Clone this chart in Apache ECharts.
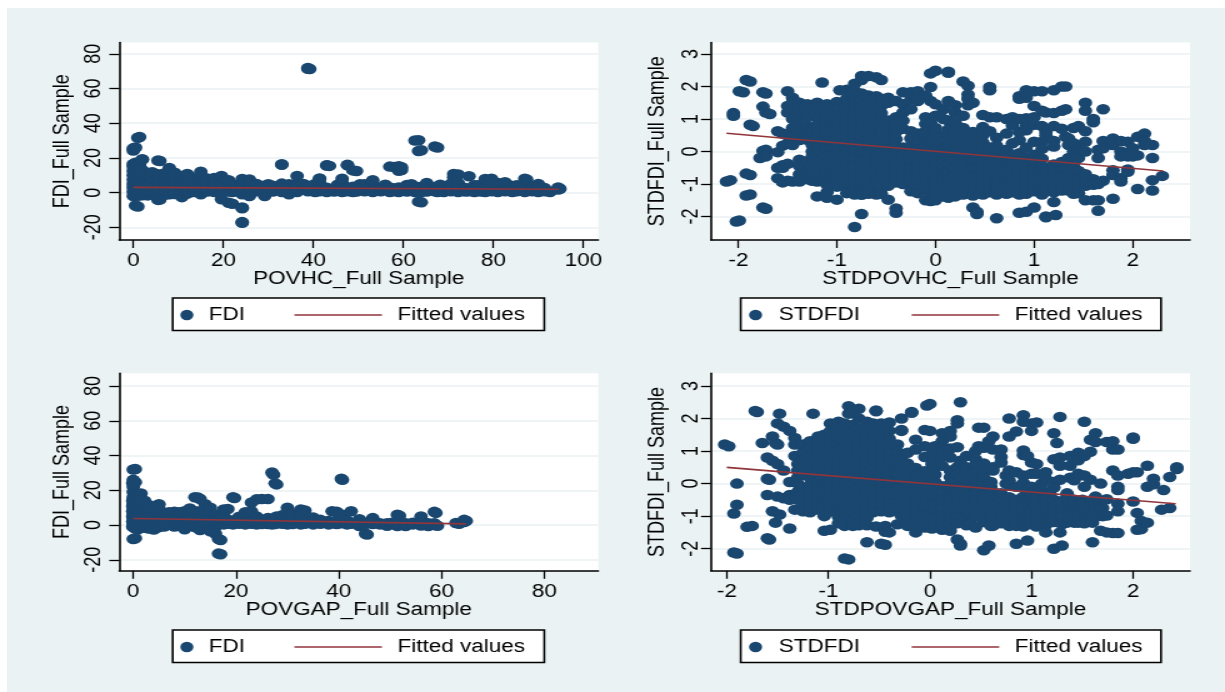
<!DOCTYPE html>
<html><head><meta charset="utf-8">
<style>
html,body{margin:0;padding:0;background:#fff;width:1225px;height:692px;overflow:hidden}
#bg{position:absolute;left:7px;top:8px;width:1218px;height:684px;background:#eaf2f3}
#c{position:absolute;left:0;top:0;width:980px;height:692px;transform:scaleX(1.25);transform-origin:0 0}
</style>
<script src="https://cdn.jsdelivr.net/npm/echarts@6/dist/echarts.min.js"></script>
</head><body><div id="bg"></div><div id="c"></div>
<script>
// Each column: [x, [y values]]
const povhcColumns=[
[0,[-2,0.5,3,5,7.5,10,12.5,15,16.5,24.2,25.5]],[0.5,[-7.4,-1,1.5,4.5,7,9.5,12,14.5,17.2,26]],[1,[-8,-1.8,1,3.5,6,8.5,11,13.5,15.8,31.6]],[1.4,[32,-1.2,2.5,5,16]],[2,[-1.5,0.5,3,5.5,8,10.5,13,19,19.3]],
[3.2,[-1.6,0.8,3.2,5.8,8.2,10.6]],[4.2,[-1,1,3.4,6,8.8,11.8]],[5.5,[-4.2,-1.4,0.6,3,5.6,8.2,10.6,18.5]],[5.9,[-4,18.2]],[7,[-1.2,1,3.6,6.2,9,11.2]],[8,[-1,0.8,3.2,5.8,8.4,11,14.2]],[9.2,[-0.8,1.2,3.6,6,8.6,11.4]],
[10.8,[-2.6,0.6,3,5.6,8.2,9.4]],[12,[-0.6,1,3.4,5.8,8.4,10.8]],[13.4,[0.4,2.8,5.4,8]],[15,[-1,0.8,3.2,5.8,8.2,10.4,12]],[16.4,[0.6,3,5.6,8.2]],[18,[0.4,2.6,5.2,8.4]],[19.6,[-3.8,0.2,2.8,5.4,8.8,9.6]],
[21.2,[-5.8,0.6,3,5.2,7.2]],[22,[-6.4,0.4,2.6,4.6]],[23,[0.8,3,4.4]],[24.2,[-8.6,-9,-17,-17.4,-1,1,3.2,5.6,7.8]],[25.8,[-2,0.4,2.8,5.2,7.6]],[27.4,[0.8,3,5]],[29.2,[-2,0.4,2.6,4]],[30,[1.5,4.8]],[31,[0.6,2.8,4]],[33,[16.3,16,0.4,2.6,5.2]],[34.6,[-1,0.8,3,4.8]],[36.4,[0.4,2.6,5.4,9.6]],[37.8,[2,5]],[38.8,[71.8,71.4,0.8,3,4]],[39.2,[71.2]],[40.4,[0.4,2.6,5]],[41.4,[0.8,3.2,5.6,7.8,8.2]],[43,[15.8,15.6,0.4,2.8]],[43.6,[15.4]],[44.6,[0.6,2.4]],[45.4,[1.5,4.6]],[46.4,[0.4,3,5.6,8]],[47.6,[16,15.7,0.8,2.6]],[48.8,[12.8,0.4,3.4]],[49.6,[12.5,0.6,2.4]],[50.4,[1.5,4.8]],[51.4,[0.8,3,4.8]],[53.2,[0.4,3,5.4,7.2]],[55,[0.8,2.8]],[56,[1.6,4.6]],[57,[15,0.4,3]],[58,[14.8,0.8,2.4]],[59,[15.2,12.6,0.4,3]],[59.6,[13,14.6]],[60.8,[0.6,2.8,4.4]],[61.8,[1.6,4.8]],[62.6,[30,0.4,2.6]],[63.4,[30.2,24,-5.2,0.8,3.2]],[64,[24.4,-5.6,0.4]],[65.2,[0.6,3,5.6]],[67,[26.6,0.8,3.2]],[67.6,[26,0.4,2.6]],[68.2,[1.6,4.6]],[69,[0.4,2.8]],[70.6,[0.8,3.4,5.2]],[71.2,[10.8,8.8]],[72.2,[10.4,0.4,2.8,5.6]],[73.8,[0.6,2.6]],[74.6,[9.4,0.8]],[75.8,[0.4,2.8,4.2]],[76.6,[1.6,4.2]],[77.2,[0.6,2.2]],[78.2,[7.8,0.4,3]],[79.6,[8,0.8,2.6]],[81,[0.4,2.8,5.6]],[82.6,[0.8,2.4,6]],[83.4,[1.6,4.4]],[84.2,[0.4,2.6]],[85.2,[4.2,0.8]],[86,[1.6,3.8]],[87,[8,0.4,2.8]],[87.4,[7.6]],[88.6,[0.8,2.2]],[89.2,[1.6,4]],[90,[5,0.4,2.6]],[91.4,[0.8,2.6]],[92.6,[0.4]],[94.4,[3,1.8]],[94.8,[2.2]]];
const povgapColumns=[
[-0.1,[24.2,-1,2,5,8,11,14]],[0,[32,26,-8,1,4,7,10,13,16,19,22]],[0.4,[32.2,-7.6,-2,0.6,3.4,6,9,12,15,18,24.6]],[0.9,[-2.4,1.4,4.4,7.4,10.4,13.4,16.2]],[1.5,[-1.2,1.2,3.8,6.4,9.2,12,15,18.2]],[2.2,[-1.6,0.6,3.2,5.8,8.4,11,14]],[3,[-2,1,3.4,6,8.6,11.6]],[4,[-2.6,0.6,3,5.6,8.4]],[5,[-1.2,1.4,4,6.6,9.6,12]],[6,[-0.8,1,3.4,6]],[7,[0.4,2.8,5.2,7.4]],[8,[-0.8,1,3.2,5.6,7.6]],[9,[0.6,3,5.4,7.4]],[10,[-2.4,1,3.4,5.8,8]],[11,[0.4,2.8,5.4,7.8,9.6]],[12,[-1.2,1,3.2,5.6,8,16]],[12.6,[15.8]],[13,[-2.8,0.6,3,5.4,8,15]],[14,[-2.2,1,3.4,5.6,8.2,12]],[15,[-3.6,0.4,2.8,5.2,7.6,10]],[16,[-5,-1,1.2,3.4,6]],[16.6,[-16.4,-8,0.8,3]],[17,[-16.8,-8.6]],[17.6,[0.4,2.4,5.4,9]],[18.4,[0.8,3,9.2]],[19.4,[16,0.4,2.6]],[19.7,[15.6]],[20.6,[0.8,3,4.8]],[21.8,[0.4,2.8,5.4,7.4]],[23,[13,0.8,3,5.6,8]],[24,[14.8,0.4,2.6,5]],[25,[15,0.6,3]],[26.2,[15,0.6,2.8,4]],[27,[30.2,0.4,2.4]],[27.3,[29,3]],[27.6,[24,0.6]],[27.9,[23.4,5]],[29,[0.8,3,5.6]],[30,[10,7.6,0.4,2.8]],[31,[0.6,3,6.6]],[32.6,[9,0.4,2.8,6.4]],[33.4,[8.4,0.8,3]],[35,[0.4,2.6,4.4]],[36.4,[0.8,3]],[38,[0.4,2.4]],[38.7,[8,1]],[39.6,[7.6,0.6,2.6]],[40.5,[26.6,1]],[40.7,[26,6]],[41.6,[0.4,2.6]],[42.4,[8,0.8]],[44,[-0.6,3.4,1]],[45.2,[-5,0.6]],[45.5,[-5.4,1.4]],[46.6,[4,0.6,2.4]],[48,[1,0.4]],[49.4,[-0.4,1]],[50.4,[0.6,1.4]],[51.4,[6,-0.6,1]],[51.8,[5.4]],[53,[-0.6,1]],[54.4,[0.4,1.4]],[56,[5,-0.2,1,3]],[57.4,[-0.6,1]],[58.6,[7.6,0,1]],[58.9,[7]],[59.2,[-0.4]],[62.8,[1.2]],[63.4,[0.8]],[64.4,[3,1.8]],[64.8,[2.4]]];
const stdPovhcColumns=[
[-2.12,[-0.92]],[-2.08,[-0.88]],[-2.05,[1.18,1.1]],[-2.02,[-2.15]],[-1.99,[1.85,-2.12]],[-1.95,[1.82]],[-1.92,[2.2,-0.68,-1.35]],[-1.88,[2.15,0.82,-0.72,-1.32]],[-1.85,[0.78]],[-1.78,[-0.2]],[-1.75,[1.82,1.38,-1.72,0.02]],[-1.72,[1.78,1.2,-1.76,0.05,-0.15]],[-1.68,[1.15]],[-1.6,[0.62,-0.02,-0.5,-0.82]],[-1.55,[0.55,0.18,-0.42,-0.5,-0.95]],
[-1.5,[1.85,1.4,1.2,0.5,0.25,-0.38,-0.9]],[-1.45,[1.65,1.5,1.25,1,0.72,0.45,0.2,-0.92]],[-1.38,[1.5,1.3,1.05,0.8,0.55,0.35,-0.25,-0.45,-0.7,-0.92]],[-1.3,[1.05,0.78,0.55,0.36,-0.3,-0.62,-0.85,1.28,1.45]],[-1.25,[0.7,0.2,0,-0.15,-0.45,-0.7,-0.9]],
[-1.2,[1.5,1.28,1.05,0.82,0.6,0.38,0.15,-0.08,-0.3,-0.52,-0.74,-0.92,-1.38]],[-1.15,[2.12,1.38,-0.25,-0.9]],[-1.1,[1.45,1.22,1,0.78,0.55,0.32,0.1,-0.14,-0.36,-0.6,-0.82,-1.02,-1.25,-1.42]],[-1.05,[0.75,0.3,-0.15,-0.6,-0.9]],
[-1,[1.52,1.3,1.08,0.86,0.62,0.4,0.18,-0.05,-0.28,-0.5,-0.74,-0.96,-1.48,-1.08]],[-0.97,[1.88]],[-0.9,[1.9,1.62,1.4,1.18,0.95,0.72,0.5,0.28,0.05,-0.18,-0.4,-0.62,-0.85,-1.05,-1.28]],[-0.82,[2.08,1.86,1.6,1.38,1.15,0.92,0.7,0.48,0.25,0.02,-0.2,-0.42,-0.66,-0.9,-1.12,-1.32,-2.32]],[-0.75,[2.32,2.2,1.78,1.55,1.32,1.1,0.88,0.65,0.42,0.2,-0.02,-0.25,-0.48,-0.7,-0.92,-1.15,-1.33,-1.92]],[-0.68,[2.32,1.72,1.5,1.28,1.05,0.82,0.6,0.38,0.15,-0.08,-0.3,-0.52,-0.75,-0.98,-1.2,-1.3]],
[-0.6,[2.28,1.7,1.45,1.22,1,0.78,0.55,0.32,0.1,-0.12,-0.35,-0.58,-0.8,-1.02,-1.32]],[-0.55,[2.2,1.62,1.18,0.4,-0.2,-1.3,1.4,0.95,0.72,0.6,0.15,-0.05,-0.4,-0.62,-0.85,-1.1]],[-0.48,[1.65,1.5,0.95,0.72,0.5,0.28,0.05,-0.18,-0.4,-0.62,-0.85,-1.05,-1.48]],[-0.4,[1.55,1.05,0.82,0.6,0.38,0.15,-0.08,-0.3,-0.52,-0.75,-0.95,-1.75,-1.88]],
[-0.33,[1.82,1.45,1.2,0.95,0.7,0.12,-0.1,-0.32,-0.55,-0.78,-1]],[-0.25,[1.82,1.6,1.3,0.62,0.4,0.18,-0.05,-0.28,-0.5,-0.72,-0.95,-1.22]],[-0.18,[1.85,1.55,0.55,0.3,0.08,-0.15,-0.38,-0.6,-0.82,-1.05,-1.28]],[-0.1,[1.72,1.05,0.85,0.62,0.4,0.18,-0.05,-0.28,-0.5,-0.72,-0.95,-1.18,-1.5]],[-0.05,[2.4,1.98,1.55,0.9,0.35,-0.6,-1.3,-1.52]],
[0,[2.48,1.45,1.1,0.72,0.5,0.28,0.05,-0.18,-0.4,-0.62,-0.85,-1.08,-1.3,-1.5]],[0.08,[1.3,1,0.5,0.18,-0.05,-0.28,-0.5,-0.72,-0.95,-1.18,-1.38]],[0.13,[2.45,2.42,1.55,0.95,0.68,0.35,-1.42,0.1,-0.15,-0.4,-0.62,-0.85,-1.08,-1.28]],[0.2,[1.42,1.2,0.9,0.62,0.4,0.18,-0.05,-0.28,-0.5,-0.72,-0.95,-1.18,-1.38]],
[0.28,[2.15,1.1,0.72,0.5,0.28,0.05,-0.18,-0.4,-0.62,-0.85,-1.08,-1.32]],[0.33,[2.02,1.75,1.62,1.42]],[0.38,[1.5,0.6,0.38,0.15,-0.08,-0.3,-0.52,-0.75,-0.98,-1.2,-1.35,-1.72]],[0.42,[-1.85,-1.92]],[0.48,[1.12,0.75,0.5,0.28,0.05,-0.18,-0.4,-0.62,-0.85,-1.08,-1.32]],[0.55,[1.98,1.88,1.05,0.62,0.12,-0.1,-0.32,-0.55,-0.78,-1,-1.25]],[0.62,[1.05,0.42,0.18,-0.05,-0.28,-0.5,-0.72,-0.95,-1.18,-1.32,-2.05]],[0.72,[1,0.55,0.05,-0.18,-0.4,-0.62,-0.85,-1.08,-1.3]],[0.78,[1.05,0.8,0.25,-0.1,-0.32,-0.55,-0.78,-1,-1.25]],[0.85,[1.7,1.62,1,0.6,0.35,-0.05,-0.28,-0.5,-0.72,-0.95,-1.18,-1.32,-1.88]],[0.92,[1.88,1.65,1.02,0.78,0.65,0.12,-0.18,-0.4,-0.62,-0.85,-1.08,-1.3,-1.85]],
[1,[1.85,1.4,1.05,0.82,0.3,-0.1,-0.32,-0.55,-0.78,-1,-1.22,-1.72]],[1.08,[1.85,1.25,0.78,0.3,0.08,-0.22,-0.45,-0.68,-0.9,-1.12,-1.32]],[1.12,[1.2,-2,-2.02,-0.5,-0.75,-1,-1.2,0.6,0.5]],[1.2,[1.88,1.18,0.78,0.32,0.15,-0.4,-0.6,-0.82,-1.05,-1.25,-1.55]],[1.22,[-1.95]],[1.28,[2,1.25,0.7,-0.32,-0.55,-0.78,-1,-1.2]],[1.32,[2,1.3,0.45]],[1.35,[-0.2,-0.5,-0.75,-1,-1.2,0.2,0.4]],[1.4,[0.72,0.25,0,-0.45,-0.68,-0.9,-1.12,-1.3]],[1.45,[0.78,0.05,-0.1,-0.6,-1.28,-0.2,-0.85,-1.05]],[1.52,[1.5,1.25,0.62,-1.5,-0.82,-1.05,-0.7,0.3,0]],[1.6,[1,0.9,-0.85,-1.02,-1.5]],[1.65,[-0.2,0.05,-1,-1.82,-1.5]],[1.7,[1.3,0.32,0.1,-0.9]],[1.8,[0.4,0.2,-0.58,-0.72,-1.45]],[1.88,[0.32,0,-0.15,-0.82,-0.92]],[1.95,[0.3,-0.15,-0.55,-0.62]],[2,[0.1,-0.15]],[2.05,[0.45,-0.12,-1.15]],[2.12,[0.55,0.32,0.2]],[2.2,[0.2,-0.2,-0.88,-1.2]],[2.3,[-0.75]]];
const stdPovgapColumns=[
[-2.02,[1.2]],[-1.98,[1.15]],[-1.93,[-2.12,-0.92]],[-1.9,[-2.15,0,-0.65]],[-1.8,[-1.33]],[-1.75,[-1.3]],[-1.72,[2.23]],[-1.7,[2.2]],[-1.65,[1.25]],[-1.6,[0.15,0.8,-1.68,-0.35]],[-1.58,[-1.72,0.12]],[-1.55,[1.45,0.7,-0.85]],[-1.52,[-1.2,1.25]],[-1.5,[1.2,1.85,0.6,-0.4]],[-1.48,[2.15,-0.95]],[-1.44,[1.75,0.4,-0.45]],[-1.38,[1.62,0.05,-0.35,-0.5,-1.38]],[-1.33,[1.4,1.2,0.85,-0.8]],[-1.3,[0.6,0.4,0.2,0,-0.25,-0.5]],
[-1.25,[1.2,0.95,0.72,0.5,0.28,-0.12,-0.38,-0.6,-0.85]],[-1.18,[1.3,1.08,0.85,0.62,0.4,0.18,-0.05,-0.28,-0.5,-0.72,-0.88]],[-1.15,[2.15]],[-1.1,[1.45,1.22,1,0.78,0.55,0.32,0.1,-0.12,-0.35,-0.58,-0.8]],[-1.04,[1.5,1.25,1.02,0.8,0.58,0.35,0.12,-0.1,-0.32,-0.55,-0.78,-1,-1.45]],
[-0.98,[1.85,1.62,1.4,1.18,0.95,0.72,0.5,0.28,0.05,-0.18,-0.4,-0.62,-0.85,-1.42]],[-0.9,[1.9,1.68,1.45,1.22,1,0.78,0.55,0.32,0.1,-0.12,-0.35,-0.58,-0.8,-1.02,-1.22]],[-0.84,[1.85,1.6,1.38,1.15,0.92,0.7,0.48,0.25,0.02,-0.2,-0.42,-0.65,-0.88,-1.1,-1.3,-2.3]],[-0.8,[2.38,2.15,-2.33]],[-0.76,[2.22,1.8,1.55,1.32,1.1,0.88,0.65,0.42,0.2,-0.02,-0.25,-0.48,-0.7,-0.92,-1.15,-1.3]],[-0.7,[2.3,2,1.7,1.48,1.25,1.02,0.8,0.58,0.35,0.12,-0.1,-0.32,-0.55,-0.78,-1,-1.28]],
[-0.62,[1.9,1.65,1.42,1.2,0.98,0.75,0.52,0.3,0.08,-0.15,-0.38,-0.6,-0.82,-1.05,-1.28,-1.8]],[-0.56,[1.85,1.6,1.38,1.15,0.92,0.7,0.48,0.25,0.02,-0.2,-0.42,-0.65,-0.88]],[-0.53,[2.25,2.22,-1.32]],[-0.48,[1.85,1.62,1.4,1.18,0.95,0.72,0.5,0.28,0.05,-0.18,-0.4,-0.62,-0.85,-1.85]],[-0.44,[-1.3,-1.48,-1.88]],[-0.4,[1.88,1.62,1.38,1.15,0.92,0.7,0.48,0.25,0.02,-0.2,-0.42,-0.65,-0.88,-1.5]],[-0.32,[1.2,0.98,0.75,0.5,0.28,0.05,-0.18,-0.4,-0.62,-0.85,-1.25]],[-0.28,[2,1.65,1.62,0.75,0.5,0.1,-0.7,-1]],[-0.22,[0.95,0.62,0.4,0.18,-0.05,-0.28,-0.5,-0.72,-0.95,-1.22,-1.3]],[-0.18,[2.2,2.18]],
[-0.14,[1.35,1.05,0.48,0.25,0.02,-0.2,-0.42,-0.65,-0.88,-1.1,-1.5,-1.3]],[-0.05,[1.65,1.15,0.82,0.38,0.15,-0.08,-0.3,-0.52,-0.75,-0.98,-1.2,-1.35]],[-0.03,[2.4]],[0,[2.45,1.62]],[0.02,[0.9,0.6,-0.3,-0.9,-1.38]],[0.05,[1.15,0.75,0.5,0.28,0.05,-0.18,-0.4,-0.62,-0.85,-1.05,-1.28]],[0.12,[1.55,1.3,1.1,0.85,0.55,-0.08,-0.3,-0.52,-0.75,-0.98,-1.2,-1.42]],[0.2,[1.62,1.45,1.08,0.8,-0.2,-0.42,-0.65,-0.88,-1.1,-1.32,-1.45,0.2,0,0.4,-1.25]],[0.27,[1.95,1.85,1.12,0.5,0.28,-0.1,-0.32,-0.55,-0.78,-1,-1.22,-1.72]],[0.3,[2.5,-1.85,-1.9,0.7,0.15,-0.2,-0.8]],[0.36,[0.85,0.5,0.32,0.1,-0.15,-0.38,-0.6,-0.82,-1.05,-1.28]],[0.4,[-0.4,-0.9,-1.2,0.25]],[0.45,[1,0.75,0.58,0.35,0.12,-0.1,-0.32,-0.55,-0.78,-1,-1.35]],[0.48,[1.72,1.15]],[0.53,[1.72,1.1,0.62,0.4,0.18,-0.05,-0.28,-0.5,-0.72,-0.95,-1.18,-2.05]],[0.58,[1.3,-1.9]],[0.6,[-0.1,0.05,-1.3,-0.95]],[0.62,[1.45,1.05,0.5,0.4,-0.25,-0.45,-0.68,-0.9,-1.12,-1.3]],[0.7,[1.05,0.82,0.65,-0.3,-0.55,-0.78,-1,-1.22]],[0.75,[0,0.25]],[0.78,[2,1.45,0.4,0.1,-0.05,-0.42,-0.65,-0.88,-1.1,-1.3]],[0.85,[1.6,0.35,-0.1,-0.5,-0.72,-0.95,-1.18,-1.3,-1.85]],[0.92,[2.1,1.9,1.02,0.88,0.25,0.02,-0.4,-0.62,-0.85,-1.08,-1.32]],[0.96,[-1.75,0.85,-0.2,-0.5,-0.95,-1.2]],[1,[1.62,1.85,0.65,0.3,-0.1,-0.32,-0.55,-0.78,-1,-1.25]],[1.05,[1.88,0.6,0.3,-0.45,-0.68,-0.9,-1.12,-1.32]],[1.1,[0,-0.2,-0.7,-1.2]],[1.14,[0.35,0.15,-0.38,-0.6,-0.82,-1.05,-1.28,-1.5]],[1.18,[-0.3,-0.9,-1.15]],[1.22,[1.55,0.75,0.05,-0.12,-0.5,-0.72,-0.95,-1.18,-2]],[1.25,[1.25]],[1.28,[2.05,0.8,0.55,0.12,-0.55,-1.5]],[1.3,[-1.9,-0.8,-1.05,-1.25]],[1.35,[-0.3,-0.4,-1.2]],[1.38,[0.85,0.55,0.18,-0.62,-0.88,-1.1]],[1.42,[-0.5,-0.8,-1.2,0.1]],[1.46,[0.95,0.72,0.3,-0.72,-0.95,-1.2]],[1.5,[-0.5,-0.6]],[1.52,[1.9,0.85,0.25,-0.1,-0.8,-1.02,-1.22]],[1.58,[1.35,0.98,0.12,-0.7,-0.9]],[1.6,[-1.8,-0.55,-1.2,-0.95]],[1.63,[1.55,1.28,-0.4,-0.8,-1.02]],[1.68,[0,-0.55,-1.45,-0.75]],[1.7,[-0.75,-1]],[1.74,[1.28,-0.48,-0.98,-1.5]],[1.8,[1.3,1.05,0.4,-1.52]],[1.85,[1.05,0.25,-0.1,-0.2,-0.62,-0.85,-1.52]],[1.95,[0.3]],[2,[1.42,1.38,0.35,-0.55]],[2.04,[0.35,-1.42,-0.9]],[2.08,[-1.15,-1.4]],[2.14,[0.55,-0.1,-1.2]],[2.2,[0.15,-0.02]],[2.28,[-0.8]],[2.3,[-0.2]],[2.36,[-0.75,0.2]],[2.43,[0.45,0.5]]];
const fit1=[[0,3],[94.5,1.9]];
const fit2=[[-2.12,0.56],[2.31,-0.6]];
const fit3=[[0,3.8],[64.7,0.7]];
const fit4=[[-2,0.5],[2.42,-0.62]];
const xTicks1=[0,20,40,60,80,100], xTicks3=[0,20,40,60,80], stdXTicks=[-2,-1,0,1,2];
const fdiTicks=[-20,0,20,40,60,80], stdTicks=[-2,-1,0,1,2,3];
const xNames=['POVHC_Full Sample','STDPOVHC_Full Sample','POVGAP_Full Sample','STDPOVGAP_Full Sample'];
const yNames=['FDI_Full Sample','STDFDI_Full Sample','FDI_Full Sample','STDFDI_Full Sample'];
const seriesNames=['FDI','STDFDI','FDI','STDFDI'];

const SX=1.25, F='"Liberation Sans",Arial,sans-serif', NAVY='#1a476f', RED='#90353b', GRID='#eaf2f3';
const flat=c=>c.flatMap(([x,ys])=>ys.map(y=>[x,y]));
const panels=[
 {cols:povhcColumns,fit:fit1,xt:xTicks1,yt:fdiTicks,l:119.3,r:598.3,t:42.5,xr:[-3.11,103.33],yr:[-27.3,86.5],yg:36,ym:11.5,lb:[172.7,544.3,298]},
 {cols:stdPovhcColumns,fit:fit2,xt:stdXTicks,yt:stdTicks,l:711,r:1190,t:42.5,xr:[-2.277,2.581],yr:[-2.72,3.35],yg:34,ym:7,lb:[740.7,1161,298]},
 {cols:povgapColumns,fit:fit3,xt:xTicks3,yt:fdiTicks,l:119.3,r:598.3,t:373.3,xr:[-2.72,90.5],yr:[-26.3,87.3],yg:36,ym:11.5,lb:[172.7,544.3,630]},
 {cols:stdPovgapColumns,fit:fit4,xt:stdXTicks,yt:stdTicks,l:711,r:1190,t:373.3,xr:[-2.155,2.56],yr:[-2.68,3.39],yg:34,ym:7,lb:[740.7,1161,630]}
];
const opt={animation:false,backgroundColor:'transparent',textStyle:{fontFamily:F},grid:[],xAxis:[],yAxis:[],series:[],legend:[],graphic:[]};
const axisCommon={type:'value',nameLocation:'middle',nameMoveOverlap:false,nameTextStyle:{fontSize:18,color:'#000',fontFamily:F},
 axisLine:{show:true,onZero:false,lineStyle:{color:'#000',width:1.6}},axisTick:{show:true,length:8,lineStyle:{color:'#000',width:1.3}}};
panels.forEach((p,i)=>{
 opt.grid.push({left:p.l/SX,width:(p.r-p.l)/SX,top:p.t,height:197.5,show:true,backgroundColor:'#fff',borderWidth:0});
 opt.xAxis.push({...axisCommon,gridIndex:i,min:p.xr[0],max:p.xr[1],name:xNames[i],nameGap:30,
  axisTick:{...axisCommon.axisTick,customValues:p.xt},splitLine:{show:false},
  axisLabel:{customValues:p.xt,fontSize:18,color:'#000',margin:12,fontFamily:F,showMinLabel:true,showMaxLabel:true}});
 opt.yAxis.push({...axisCommon,gridIndex:i,min:p.yr[0],max:p.yr[1],name:yNames[i],nameGap:p.yg,
  axisTick:{...axisCommon.axisTick,customValues:p.yt},splitLine:{show:true,lineStyle:{color:GRID,width:1.5}},
  axisLabel:{customValues:p.yt,fontSize:18,color:'#000',margin:p.ym,rotate:90,fontFamily:F,showMinLabel:true,showMaxLabel:true}});
 opt.series.push({type:'scatter',name:seriesNames[i],xAxisIndex:i,yAxisIndex:i,data:flat(p.cols),symbol:'circle',symbolSize:[11,10.5],itemStyle:{color:NAVY,opacity:1},silent:true,z:2});
 opt.series.push({type:'line',name:'Fitted values',xAxisIndex:i,yAxisIndex:i,data:p.fit,symbol:'none',showSymbol:false,lineStyle:{color:RED,width:1.6},itemStyle:{color:RED},silent:true,z:3});
 const [bl,br,bt]=p.lb;
 opt.graphic.push({type:'rect',z:0,silent:true,shape:{x:bl/SX,y:bt,width:(br-bl)/SX,height:32.5},style:{fill:'#fff',stroke:'#000',lineWidth:1.6}});
 const odd=i%2===1;
 opt.legend.push({data:[{name:seriesNames[i],icon:'circle'}],left:(bl+(odd?8.3:7.6))/SX,top:bt+8,padding:0,itemWidth:11,itemHeight:10.5,itemGap:0,selectedMode:false,textStyle:{fontSize:18,color:'#000',fontFamily:F,padding:[0,0,0,odd?8:7]},z:5});
 opt.legend.push({data:[{name:'Fitted values'}],left:(bl+(odd?170:120.7))/SX,top:bt+8,padding:0,itemWidth:70,itemHeight:14,itemGap:0,selectedMode:false,itemStyle:{opacity:0},lineStyle:{color:RED,width:1.6},textStyle:{fontSize:18,color:'#000',fontFamily:F,padding:[0,0,0,7.5]},z:5});
});
echarts.init(document.getElementById('c'),null,{renderer:'canvas',width:980,height:692,devicePixelRatio:1}).setOption(opt);
</script></body></html>
